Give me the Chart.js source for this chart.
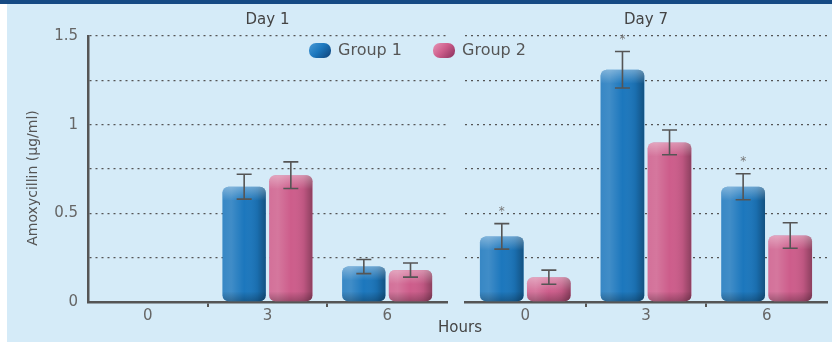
<!DOCTYPE html>
<html>
<head>
<meta charset="utf-8">
<script src="https://cdn.jsdelivr.net/npm/chart.js@4.4.1/dist/chart.umd.min.js"></script>
<style>
  html, body { margin: 0; padding: 0; background: #fff; }
  #wrap { position: relative; width: 832px; height: 345px; overflow: hidden; }
  #panel { position: absolute; left: 7px; top: 0; width: 825px; height: 342px; background: #d5ebf8; }
  #topbar { position: absolute; left: 0; top: 0; width: 832px; height: 4px; background: #154a84; }
  canvas { position: absolute; left: 0; top: 0; }
</style>
</head>
<body>
<div id="wrap">
  <div id="panel"></div>
  <div id="topbar"></div>
  <canvas id="day1" width="832" height="345"></canvas>
  <canvas id="day7" width="832" height="345"></canvas>
</div>
<script>
// Data
const hours = ["0", "3", "6"];
const groupNames = ["Group 1", "Group 2"];
const yTickLabels = [0, 0.5, 1, 1.5];

const day1Group1 = [0, 0.65, 0.2];
const day1Group1Err = [0, 0.07, 0.04];
const day1Group2 = [0, 0.715, 0.18];
const day1Group2Err = [0, 0.075, 0.04];

const day7Group1 = [0.37, 1.31, 0.65];
const day7Group1Err = [0.072, 0.103, 0.073];
const day7Group2 = [0.14, 0.9, 0.375];
const day7Group2Err = [0.04, 0.07, 0.072];

// significance asterisks (Group 1 vs Group 2)
const day1Sig = [false, false, false];
const day7Sig = [true, true, true];

const FONT = "'DejaVu Sans', sans-serif";
Chart.defaults.font.family = FONT;

const groupColors = [
  { base: "#1c77bd", light: "#4a9ad6", dark: "#11477f" },
  { base: "#cd5d8b", light: "#e795b6", dark: "#8f3360" }
];

function makeSets(g1, e1, s1, g2, e2) {
  return [
    { label: groupNames[0], data: g1, errors: e1, marks: s1, backgroundColor: groupColors[0].base, colors: groupColors[0] },
    { label: groupNames[1], data: g2, errors: e2, marks: [], backgroundColor: groupColors[1].base, colors: groupColors[1] }
  ];
}

// Glossy shading over every bar
const glossPlugin = {
  id: "gloss",
  afterDatasetsDraw(chart) {
    const ctx = chart.ctx;
    chart.data.datasets.forEach((ds, di) => {
      const meta = chart.getDatasetMeta(di);
      meta.data.forEach((bar) => {
        const { x, y, base, width } = bar.getProps(["x", "y", "base", "width"], true);
        const h = base - y;
        if (h <= 0.5) return;
        const left = x - width / 2;
        ctx.save();
        ctx.beginPath();
        ctx.roundRect(left, y, width, h, Math.min(6, h / 2));
        ctx.clip();
        let g = ctx.createLinearGradient(left, 0, left + width, 0);
        g.addColorStop(0, "rgba(255,255,255,0.12)");
        g.addColorStop(0.2, "rgba(255,255,255,0.16)");
        g.addColorStop(0.5, "rgba(255,255,255,0)");
        g.addColorStop(0.8, "rgba(0,0,0,0.08)");
        g.addColorStop(1, "rgba(0,0,0,0.32)");
        ctx.fillStyle = g;
        ctx.fillRect(left, y, width, h);
        g = ctx.createLinearGradient(0, y, 0, y + 14);
        g.addColorStop(0, "rgba(255,255,255,0.35)");
        g.addColorStop(1, "rgba(255,255,255,0)");
        ctx.fillStyle = g;
        ctx.fillRect(left, y, width, 14);
        g = ctx.createLinearGradient(0, base - 10, 0, base);
        g.addColorStop(0, "rgba(0,0,0,0)");
        g.addColorStop(1, "rgba(0,0,0,0.25)");
        ctx.fillStyle = g;
        ctx.fillRect(left, base - 10, width, 10);
        ctx.restore();
      });
    });
  }
};

// Error bars and asterisks
const errorPlugin = {
  id: "errorBars",
  afterDatasetsDraw(chart) {
    const ctx = chart.ctx;
    const yScale = chart.scales.y;
    chart.data.datasets.forEach((ds, di) => {
      const meta = chart.getDatasetMeta(di);
      meta.data.forEach((bar, i) => {
        const v = ds.data[i];
        const e = ds.errors[i];
        if (!e) return;
        const x = bar.x;
        const top = yScale.getPixelForValue(v + e);
        const bot = yScale.getPixelForValue(v - e);
        ctx.save();
        ctx.strokeStyle = "#555";
        ctx.lineWidth = 1.6;
        ctx.beginPath();
        ctx.moveTo(x, top); ctx.lineTo(x, bot);
        ctx.moveTo(x - 7.5, top); ctx.lineTo(x + 7.5, top);
        ctx.moveTo(x - 7.5, bot); ctx.lineTo(x + 7.5, bot);
        ctx.stroke();
        if (ds.marks[i]) {
          ctx.fillStyle = "#777";
          ctx.font = "12px " + FONT;
          ctx.textAlign = "center";
          ctx.textBaseline = "middle";
          ctx.fillText("*", x, top - 12);
        }
        ctx.restore();
      });
    });
  }
};

// Legend, y title and shared "Hours" title, drawn on the Day 1 chart
const extrasPlugin = {
  id: "extras",
  afterDraw(chart) {
    const ctx = chart.ctx;
    ctx.save();
    chart.data.datasets.forEach((ds, di) => {
      const mx = 309 + di * 124;
      const my = 43;
      const c = ds.colors;
      const g = ctx.createLinearGradient(mx, my, mx + 18, my + 17);
      g.addColorStop(0, c.light);
      g.addColorStop(0.5, c.base);
      g.addColorStop(1, c.dark);
      ctx.fillStyle = g;
      ctx.beginPath();
      ctx.roundRect(mx, my, 22, 15, 7);
      ctx.fill();
      ctx.fillStyle = "#555";
      ctx.font = "16px " + FONT;
      ctx.textAlign = "left";
      ctx.textBaseline = "middle";
      ctx.fillText(ds.label, mx + 29, my + 8);
    });
    ctx.fillStyle = "#444";
    ctx.font = "15px " + FONT;
    ctx.textAlign = "center";
    ctx.textBaseline = "middle";
    ctx.fillText("Hours", 460, 328);

    ctx.translate(33, 178);
    ctx.rotate(-Math.PI / 2);
    ctx.fillStyle = "#555";
    ctx.font = "14px " + FONT;
    ctx.fillText("Amoxycillin (μg/ml)", 0, 0);
    ctx.restore();
  }
};

function baseOptions(title, padLeft, padRight, showY) {
  return {
    responsive: false,
    animation: false,
    layout: { padding: { left: padLeft, right: padRight, top: 0, bottom: 0 } },
    datasets: {
      bar: { categoryPercentage: 0.78, barPercentage: 0.93, borderRadius: 6, borderSkipped: false }
    },
    plugins: {
      legend: { display: false },
      tooltip: { enabled: false },
      title: {
        display: true, text: title, fullSize: false, color: "#444",
        font: { size: 15, weight: "normal" }, padding: { top: 11, bottom: 7 }
      }
    },
    scales: {
      x: {
        grid: {
          display: true, drawOnChartArea: false, tickLength: 5, offset: true, lineWidth: 2,
          color: (c) => (c.type === "tick" && c.index > 0 ? "#555" : "rgba(0,0,0,0)")
        },
        border: { color: "#555", width: 2.5 },
        ticks: { color: "#666", font: { size: 15 }, padding: 0 },
        afterFit(s) { s.height = 43; }
      },
      y: {
        min: 0, max: 1.5,
        ticks: {
          display: showY, stepSize: 0.25, color: "#666", font: { size: 15 }, padding: 10,
          callback: (v) => (yTickLabels.includes(v) ? String(v) : "")
        },
        grid: { color: "#555", lineWidth: 1.3, drawTicks: false },
        border: { display: showY, color: "#555", width: 2.5, dash: [2, 4] },
        afterFit(s) { s.width = showY ? 88 : 0; }
      }
    }
  };
}

new Chart(document.getElementById("day1"), {
  type: "bar",
  data: { labels: hours, datasets: makeSets(day1Group1, day1Group1Err, day1Sig, day1Group2, day1Group2Err) },
  options: baseOptions("Day 1", 0, 385, true),
  plugins: [glossPlugin, errorPlugin, extrasPlugin]
});

new Chart(document.getElementById("day7"), {
  type: "bar",
  data: { labels: hours, datasets: makeSets(day7Group1, day7Group1Err, day7Sig, day7Group2, day7Group2Err) },
  options: baseOptions("Day 7", 465, 5, false),
  plugins: [glossPlugin, errorPlugin]
});
</script>
</body>
</html>
